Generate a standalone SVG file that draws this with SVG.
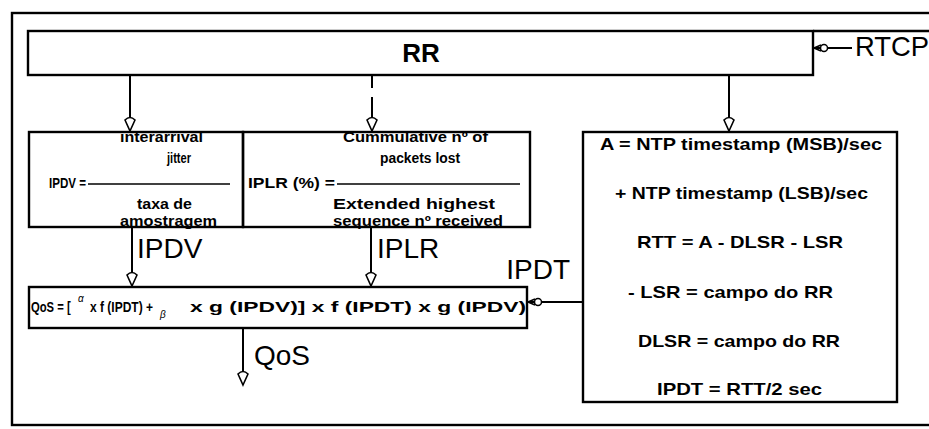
<svg xmlns="http://www.w3.org/2000/svg" width="929" height="429" viewBox="0 0 929 429">
<style>
.box{fill:none;stroke:#000;stroke-width:2.4}
.ln{fill:none;stroke:#000;stroke-width:2}
.t{font-family:"Liberation Sans",Arial,sans-serif;font-weight:bold;fill:#000}
.lbl{font-family:"Liberation Sans",Arial,sans-serif;font-size:28px;fill:#000}
.g{font-family:"Liberation Sans",Arial,sans-serif;font-style:italic;font-size:10px;fill:#000}
.s{font-size:14px}
.m{font-size:17px}
</style>
<defs>
<marker id="ah" markerUnits="userSpaceOnUse" markerWidth="20" markerHeight="14" viewBox="-2 -7 20 14" refX="15" refY="0" orient="auto">
<path d="M15,0 L4,-5 Q-1,0 4,5 Z" fill="#fff" stroke="#000" stroke-width="1.6"/>
</marker>
<marker id="oc" markerUnits="userSpaceOnUse" markerWidth="20" markerHeight="12" viewBox="-2 -6 20 12" refX="15" refY="0" orient="auto">
<path d="M15,0 L8,-3 M15,0 L8,3" fill="none" stroke="#000" stroke-width="1.5"/>
<circle cx="5" cy="0" r="3.5" fill="#fff" stroke="#000" stroke-width="1.5"/>
</marker>
</defs>
<rect width="929" height="429" fill="#fff"/>
<rect x="12" y="13" width="940" height="412" class="box" stroke-width="2.6"/>

<g id="rr">
<rect x="28" y="31" width="785" height="44" class="box"/>
<line x1="813" y1="31" x2="929" y2="31" class="box"/>
<text x="421" y="62" class="t" font-size="26" text-anchor="middle">RR</text>
</g>

<g id="rtcp">
<text x="855" y="56" class="lbl" font-size="26" textLength="74" lengthAdjust="spacingAndGlyphs">RTCP</text>
</g>

<g id="ipdv">
<rect x="29" y="132" width="214" height="95" class="box"/>
<text class="t s" x="120" y="142" textLength="83" lengthAdjust="spacingAndGlyphs">interarrival</text>
<text class="t s" x="167" y="163" textLength="24" lengthAdjust="spacingAndGlyphs">jitter</text>
<text class="t s" x="49" y="188" textLength="37" lengthAdjust="spacingAndGlyphs">IPDV =</text>
<line x1="88" y1="184" x2="230" y2="184" stroke="#000" stroke-width="1.3"/>
<text class="t s" x="137" y="209" textLength="55" lengthAdjust="spacingAndGlyphs">taxa de</text>
<text class="t s" x="120" y="226" textLength="97" lengthAdjust="spacingAndGlyphs">amostragem</text>
</g>

<g id="iplr">
<rect x="243" y="132" width="287" height="95" class="box"/>
<text class="t s" x="343" y="142" textLength="145" lengthAdjust="spacingAndGlyphs">Cummulative nº of</text>
<text class="t s" x="380" y="163" textLength="80" lengthAdjust="spacingAndGlyphs">packets lost</text>
<text class="t s" x="248" y="188" textLength="87" lengthAdjust="spacingAndGlyphs">IPLR (%) =</text>
<line x1="337" y1="184" x2="520" y2="184" stroke="#000" stroke-width="1.3"/>
<text class="t s" x="333" y="209" textLength="162" lengthAdjust="spacingAndGlyphs">Extended highest</text>
<text class="t s" x="333" y="226" textLength="170" lengthAdjust="spacingAndGlyphs">sequence nº received</text>
</g>

<g id="rtt">
<rect x="583" y="132" width="314" height="270" class="box"/>
<text class="t m" x="600" y="150" textLength="282" lengthAdjust="spacingAndGlyphs">A = NTP timestamp (MSB)/sec</text>
<text class="t m" x="615" y="199" textLength="253" lengthAdjust="spacingAndGlyphs">+ NTP timestamp (LSB)/sec</text>
<text class="t m" x="637" y="248" textLength="206" lengthAdjust="spacingAndGlyphs">RTT = A - DLSR - LSR</text>
<text class="t m" x="628" y="298" textLength="205" lengthAdjust="spacingAndGlyphs">-  LSR = campo do RR</text>
<text class="t m" x="638" y="347" textLength="202" lengthAdjust="spacingAndGlyphs">DLSR = campo do RR</text>
<text class="t m" x="657" y="395" textLength="165" lengthAdjust="spacingAndGlyphs">IPDT = RTT/2 sec</text>
</g>

<g id="qos">
<rect x="29" y="287" width="498" height="41" class="box"/>
<text class="t" font-size="15" transform="translate(31,312) scale(0.75,1)">QoS = [</text>
<text class="g" x="78" y="302">α</text>
<text class="t" font-size="15" transform="translate(90,312) scale(0.8,1)">x f (IPDT) +</text>
<text class="g" x="160" y="318">β</text>
<text class="t" font-size="15" x="190" y="312" textLength="336" lengthAdjust="spacingAndGlyphs">x g (IPDV)] x f (IPDT) x g (IPDV)</text>
</g>

<g id="labels">
<text class="lbl" x="137" y="258">IPDV</text>
<text class="lbl" x="377" y="258">IPLR</text>
<text class="lbl" x="570" y="279" text-anchor="end">IPDT</text>
<text class="lbl" x="254" y="365">QoS</text>
</g>

<g id="connectors">
<line x1="130" y1="75" x2="130" y2="131" class="ln" marker-end="url(#ah)"/>
<line x1="372" y1="75" x2="372" y2="88" class="ln"/>
<line x1="372" y1="97" x2="372" y2="131" class="ln" marker-end="url(#ah)"/>
<line x1="729" y1="75" x2="729" y2="131" class="ln" marker-end="url(#ah)"/>
<line x1="132" y1="227" x2="132" y2="286" class="ln" marker-end="url(#ah)"/>
<line x1="371" y1="227" x2="371" y2="286" class="ln" marker-end="url(#ah)"/>
<line x1="243" y1="328" x2="243" y2="385" class="ln" marker-end="url(#ah)"/>
<line x1="583" y1="302" x2="528" y2="302" class="ln" marker-end="url(#oc)"/>
<line x1="852" y1="48" x2="814" y2="48" class="ln" marker-end="url(#oc)"/>
</g>
</svg>
